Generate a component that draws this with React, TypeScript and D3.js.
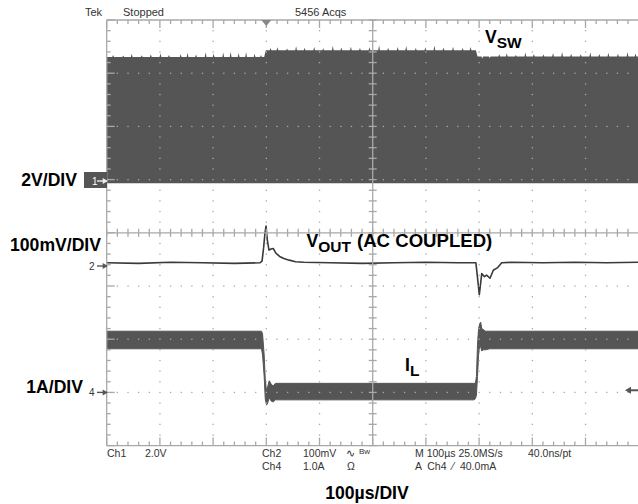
import React from 'react';
import * as d3 from 'd3';

// ---------- data ----------
// Time in µs (100 µs/div, 10 divisions)
// Switching-node envelope: flat upper level per load segment (volts, 2 V/div)
const vswSegStart = [0, 299, 697];
const vswSegEnd = [296, 694, 1000];
const vswSegLevel = [4.68, 4.93, 4.70];
// Narrow noise spikes on the upper edge (time µs, volts)
const vswSpikeT = [12, 31, 47, 66, 83, 101, 117, 139, 152, 168, 186, 201, 219, 233, 248, 262, 278, 290,
  308, 321, 339, 356, 372, 390, 407, 425, 441, 459, 476, 494, 512, 529, 547, 563, 581, 599, 616, 633, 651, 669, 684,
  706, 720, 738, 752, 769, 787, 803, 821, 839, 856, 873, 891, 909, 926, 943, 961, 979, 994];
const vswSpikeV = [4.76, 4.74, 4.80, 4.75, 4.78, 4.82, 4.76, 4.79, 4.84, 4.77, 4.86, 4.81, 4.85, 4.88, 4.83, 4.87, 4.80, 4.76,
  5.02, 5.05, 5.00, 5.08, 5.03, 5.06, 5.01, 5.10, 5.04, 5.07, 5.02, 5.05, 5.12, 5.03, 5.06, 5.09, 5.02, 5.05, 5.11, 5.04, 5.07, 5.02, 5.06,
  4.62, 4.64, 4.78, 4.82, 4.76, 4.85, 4.79, 4.77, 4.83, 4.88, 4.80, 4.78, 4.86, 4.79, 4.84, 4.80, 4.87, 4.81];
const vswFloor = -0.07;

// Output voltage, AC coupled, mV (100 mV/div)
const voutTime = [0, 60, 120, 180, 240, 288, 292, 295, 297.5, 299.5, 302, 305, 309, 313, 318, 325, 333, 343, 355, 370,
  420, 480, 540, 600, 660, 690, 694, 697, 700.4, 705, 710, 714, 720.5, 726.7, 735, 742.5, 760, 820, 880, 940, 1000];
const voutMv = [6, 5, 7, 6, 5, 6, 9, 35, 62, 75, 48, 30, 32, 33, 24, 18, 14, 11, 8, 7,
  6, 5, 6, 7, 6, 6, 6, -22, -54, -14, -20, -17, -23, -8, -3, 6, 7, 6, 7, 6, 7];

// Inductor current envelope, A (1 A/div)
const ilTime = [0, 291, 293, 296, 298, 300.5, 302.5, 305.5, 309, 313, 317, 690, 693, 695, 697, 699, 701.5, 703, 705, 708, 712, 720, 1000];
const ilUpper = [1.15, 1.15, 1.10, 0.70, 0.25, 0.02, 0.10, 0.22, 0.16, 0.12, 0.17, 0.17, 0.17, 0.30, 0.90, 1.20, 1.30, 1.32, 1.20, 1.18, 1.15, 1.15, 1.15];
const ilLower = [0.82, 0.82, 0.70, 0.30, -0.12, -0.24, -0.20, -0.10, -0.16, -0.18, -0.14, -0.14, -0.12, -0.05, 0.30, 0.70, 0.90, 0.85, 0.78, 0.80, 0.80, 0.82, 0.82];

const headerTexts = ['Tek', 'Stopped', '5456 Acqs'];
const footerRow1 = ['Ch1', '2.0V', 'Ch2', '100mV', '∿', 'Bw', 'M 100µs 25.0MS/s', '40.0ns/pt'];
const footerRow2 = ['Ch4', '1.0A', 'Ω', 'A  Ch4  ⁄  40.0mA'];
const scaleLabels = ['2V/DIV', '100mV/DIV', '1A/DIV'];
const timeLabel = '100µs/DIV';

// ---------- layout ----------
const W = 638, H = 504;
const X0 = 106.7, Y0 = 20, DIV = 53.2;
const NX = 10, NY = 8;

const gx = d3.scaleLinear().domain([0, NX]).range([X0, X0 + NX * DIV]);
const gy = d3.scaleLinear().domain([0, NY]).range([Y0, Y0 + NY * DIV]);
const xT = d3.scaleLinear().domain([0, 1000]).range([X0, X0 + NX * DIV]);
const ch1G = 181.5, ch2G = 266, ch4G = gy(7);
const yVsw = d3.scaleLinear().domain([0, 2]).range([ch1G, ch1G - DIV]);
const yVout = d3.scaleLinear().domain([0, 100]).range([ch2G, ch2G - DIV]);
const yIL = d3.scaleLinear().domain([0, 1]).range([ch4G, ch4G - DIV]);

const WAVE = '#555555';
const GRID = '#a8a8a8';

function buildVswEdge() {
  const pts: { t: number; v: number }[] = [];
  vswSegStart.forEach((s, k) => {
    const e = vswSegEnd[k];
    const lvl = vswSegLevel[k];
    pts.push({ t: s, v: lvl });
    vswSpikeT.forEach((t, i) => {
      if (t > s + 1.5 && t < e - 1.5) {
        pts.push({ t: t - 1.6, v: lvl });
        pts.push({ t, v: vswSpikeV[i] });
        pts.push({ t: t + 1.6, v: lvl });
      }
    });
    pts.push({ t: e, v: lvl });
  });
  return pts;
}

export default function App() {
  const vswArea = d3.area<any>().x(d => xT(d.t)).y0(() => yVsw(vswFloor)).y1(d => yVsw(d.v))(buildVswEdge()) || '';
  const voutLine = d3.line<any>().x(d => xT(d.t)).y(d => yVout(d.v))(voutTime.map((t, i) => ({ t, v: voutMv[i] }))) || '';
  const ilArea = d3.area<any>().x(d => xT(d.t)).y0(d => yIL(d.lo)).y1(d => yIL(d.hi))(
    ilTime.map((t, i) => ({ t, hi: ilUpper[i], lo: ilLower[i] }))) || '';

  const minorX = d3.range(0, NX * 5 + 1).map(i => i / 5);
  const minorY = d3.range(0, NY * 5 + 1).map(i => i / 5);

  const dots: JSX.Element[] = [];
  for (let k = 1; k < NX; k++) {
    if (k === 5) continue;
    minorY.forEach((m, j) => {
      if (m <= 0 || m >= NY) return;
      dots.push(<rect key={`dv${k}-${j}`} x={gx(k) - 0.6} y={gy(m) - 0.6} width={1.3} height={1.3} fill={GRID} />);
    });
  }
  for (let k = 1; k < NY; k++) {
    if (k === 4) continue;
    minorX.forEach((m, j) => {
      if (m <= 0 || m >= NX || Number.isInteger(m)) return;
      dots.push(<rect key={`dh${k}-${j}`} x={gx(m) - 0.6} y={gy(k) - 0.6} width={1.3} height={1.3} fill={GRID} />);
    });
  }

  const ticks: JSX.Element[] = [];
  minorX.forEach((m, j) => {
    const major = Number.isInteger(m);
    const len = major ? 8 : 4;
    ticks.push(<line key={`tt${j}`} x1={gx(m)} x2={gx(m)} y1={gy(0)} y2={gy(0) + len} />);
    ticks.push(<line key={`tb${j}`} x1={gx(m)} x2={gx(m)} y1={gy(NY)} y2={gy(NY) - len} />);
    ticks.push(<line key={`tc${j}`} x1={gx(m)} x2={gx(m)} y1={gy(4) - 4} y2={gy(4) + 4} />);
  });
  minorY.forEach((m, j) => {
    const major = Number.isInteger(m);
    const len = major ? 8 : 4;
    ticks.push(<line key={`tl${j}`} x1={gx(0)} x2={gx(0) + len} y1={gy(m)} y2={gy(m)} />);
    ticks.push(<line key={`tv${j}`} x1={gx(5) - 4} x2={gx(5) + 4} y1={gy(m)} y2={gy(m)} />);
  });

  const sans = '"Liberation Sans", Arial, Helvetica, sans-serif';
  const small = { fontFamily: sans, fontSize: 10.5, fill: '#333' } as const;
  const big = { fontFamily: sans, fontSize: 17.6, fontWeight: 700, fill: '#000' } as const;
  const sub = { fontFamily: sans, fontSize: 15.5, fontWeight: 700, fill: '#000' } as const;

  const marker = (y: number, label: string, boxed: boolean) => (
    <g>
      {boxed && <rect x={84} y={y - 9} width={23} height={16} fill={WAVE} />}
      <text x={boxed ? 92 : 89} y={y + 3.5} style={{ ...small, fill: boxed ? '#fff' : '#333', fontSize: 10 }}>{label}</text>
      <line x1={97} x2={X0} y1={y} y2={y} stroke={boxed ? '#eee' : '#555'} strokeWidth={1.4} />
      <path d={`M${X0 + 1},${y} L${X0 - 4},${y - 3} L${X0 - 4},${y + 3} Z`} fill={boxed ? '#eee' : '#555'} />
    </g>
  );

  return (
    <svg width={W} height={H} style={{ position: 'fixed', left: 0, top: 0, background: '#fff' }}>
      {/* header */}
      <text x={85} y={16} style={{ ...small, fontSize: 11 }}>{headerTexts[0]}</text>
      <text x={123} y={16} style={{ ...small, fontSize: 11 }}>{headerTexts[1]}</text>
      <text x={295} y={16} style={{ ...small, fontSize: 11 }}>{headerTexts[2]}</text>

      {/* waveforms */}
      <path d={vswArea} fill={WAVE} />
      <path d={ilArea} fill={WAVE} stroke={WAVE} strokeWidth={1} />
      <path d={voutLine} fill="none" stroke="#3a3a3a" strokeWidth={1.6} strokeLinejoin="round" />

      {/* graticule */}
      <g>{dots}</g>
      <g stroke={GRID} strokeWidth={1.3}>
        <line x1={gx(0)} x2={gx(NX)} y1={gy(0)} y2={gy(0)} />
        <line x1={gx(0)} x2={gx(NX)} y1={gy(NY)} y2={gy(NY)} />
        <line x1={gx(0)} x2={gx(0)} y1={gy(0)} y2={gy(NY)} />
        <line x1={gx(0)} x2={gx(NX)} y1={gy(4)} y2={gy(4)} />
        <line x1={gx(5)} x2={gx(5)} y1={gy(0)} y2={gy(NY)} />
        {ticks}
      </g>

      {/* trigger position and level markers */}
      <path d={`M${xT(300) - 5},${Y0} L${xT(300) + 5},${Y0} L${xT(300)},${Y0 + 6} Z`} fill="#888" />
      <path d={`M625,${yIL(0.04)} L631,${yIL(0.04) - 3.5} L631,${yIL(0.04) + 3.5} Z`} fill="#555" />
      <line x1={630} x2={638} y1={yIL(0.04)} y2={yIL(0.04)} stroke="#555" strokeWidth={2} />

      {/* channel markers */}
      {marker(ch1G - 0.5, '1', true)}
      {marker(ch2G, '2', false)}
      {marker(ch4G, '4', false)}

      {/* scale labels */}
      <text x={77} y={186} textAnchor="end" style={big}>{scaleLabels[0]}</text>
      <text x={101} y={251} textAnchor="end" style={big}>{scaleLabels[1]}</text>
      <text x={83} y={393} textAnchor="end" style={big}>{scaleLabels[2]}</text>

      {/* trace labels */}
      <text x={485} y={43} style={big}>V<tspan dy={5} style={sub}>SW</tspan></text>
      <text x={306.5} y={247} style={big}>V<tspan dy={5} style={sub}>OUT</tspan></text>
      <text x={357} y={247} style={{ ...big, fontSize: 18.6 }}>(AC COUPLED)</text>
      <text x={405} y={371} style={big}>I<tspan dy={5} style={sub}>L</tspan></text>

      {/* footer readouts */}
      <text x={107} y={457} style={small}>{footerRow1[0]}</text>
      <text x={145} y={457} style={small}>{footerRow1[1]}</text>
      <text x={262} y={457} style={small}>{footerRow1[2]}</text>
      <text x={303} y={457} style={small}>{footerRow1[3]}</text>
      <text x={346} y={457} style={small}>{footerRow1[4]}</text>
      <text x={359} y={454} style={{ ...small, fontSize: 8 }}>{footerRow1[5]}</text>
      <text x={415} y={457} style={small}>{footerRow1[6]}</text>
      <text x={528} y={457} style={small}>{footerRow1[7]}</text>
      <text x={262} y={470} style={small}>{footerRow2[0]}</text>
      <text x={303} y={470} style={small}>{footerRow2[1]}</text>
      <text x={347} y={470} style={small}>{footerRow2[2]}</text>
      <text x={415} y={470} style={{ ...small, whiteSpace: 'pre' }}>{footerRow2[3]}</text>

      <text x={367} y={499} textAnchor="middle" style={big}>{timeLabel}</text>
    </svg>
  );
}
